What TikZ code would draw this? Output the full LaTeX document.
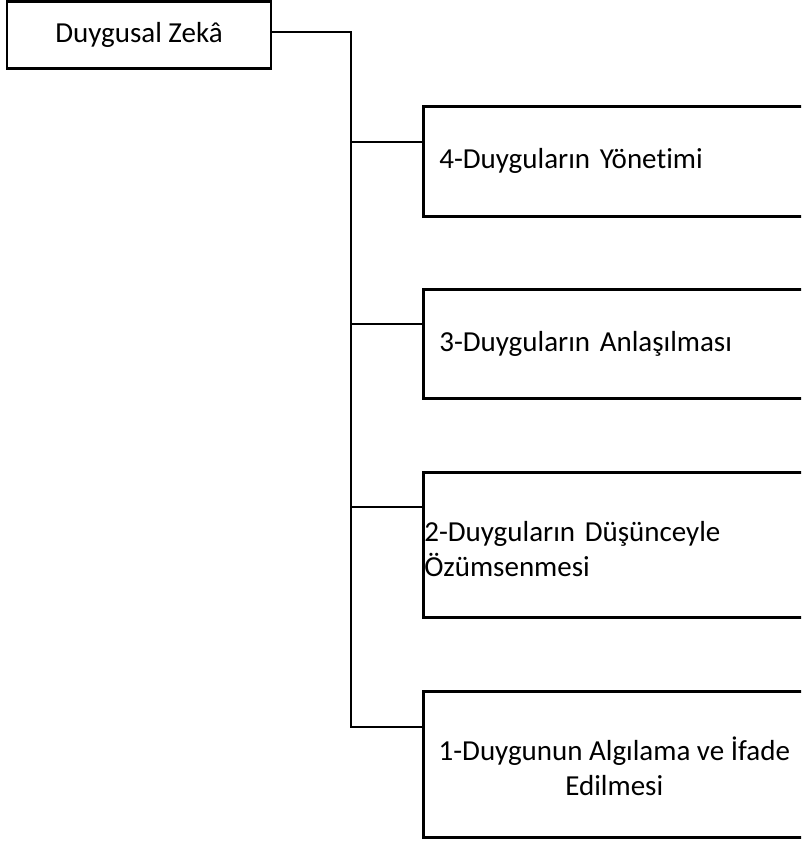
\documentclass[tikz,border=0pt]{standalone}
\usepackage{fontspec}
\setmainfont{Carlito}[Ligatures={NoCommon}]
\begin{document}
\begin{tikzpicture}[x=1pt,y=-1pt,
  box/.style={draw, line width=2.6pt, rectangle, inner ysep=0pt,
    font=\fontsize{29}{35}\selectfont},
  link/.style={line width=2.6pt}]
\useasboundingbox (0,0) rectangle (801,841);
\clip (0,0) rectangle (801,841);
\node[box, minimum width=264pt, minimum height=67pt, inner xsep=0pt] (root) at (139,34.8) {Duygusal Zekâ};
\node[box, anchor=north west, minimum height=110pt, inner xsep=16pt, text width=350pt, align=left] (b4) at (422,105) {4-Duyguların Yönetimi};
\node[box, anchor=north west, minimum height=109pt, inner xsep=16pt, text width=350pt, align=left] (b3) at (422,288) {3-Duyguların Anlaşılması};
\node[box, anchor=north west, minimum height=145pt, inner xsep=1pt, text width=380pt, align=left] (b2) at (422,471)
  {\raisebox{-7pt}[\height][\depth]{\begin{tabular}{@{}l@{}}2-Duyguların Düşünceyle\\Özümsenmesi\end{tabular}}};
\node[box, anchor=north west, minimum height=146pt, minimum width=382pt, inner xsep=0pt] (b1) at (422,690)
  {\raisebox{-7pt}[\height][\depth]{\begin{tabular}{@{}c@{}}1-Duygunun Algılama ve İfade\\Edilmesi\end{tabular}}};
\coordinate (trunk) at (351,0);
\coordinate (b4tap) at ([yshift=-37pt]b4.north west);
\coordinate (b3tap) at ([yshift=-36pt]b3.north west);
\coordinate (b2tap) at ([yshift=-36pt]b2.north west);
\coordinate (b1tap) at ([yshift=-37pt]b1.north west);
\draw[link] ([yshift=3pt]root.east) -| (trunk |- b1tap) -- (b1tap);
\draw[link] (trunk |- b4tap) -- (b4tap);
\draw[link] (trunk |- b3tap) -- (b3tap);
\draw[link] (trunk |- b2tap) -- (b2tap);
\end{tikzpicture}
\end{document}
